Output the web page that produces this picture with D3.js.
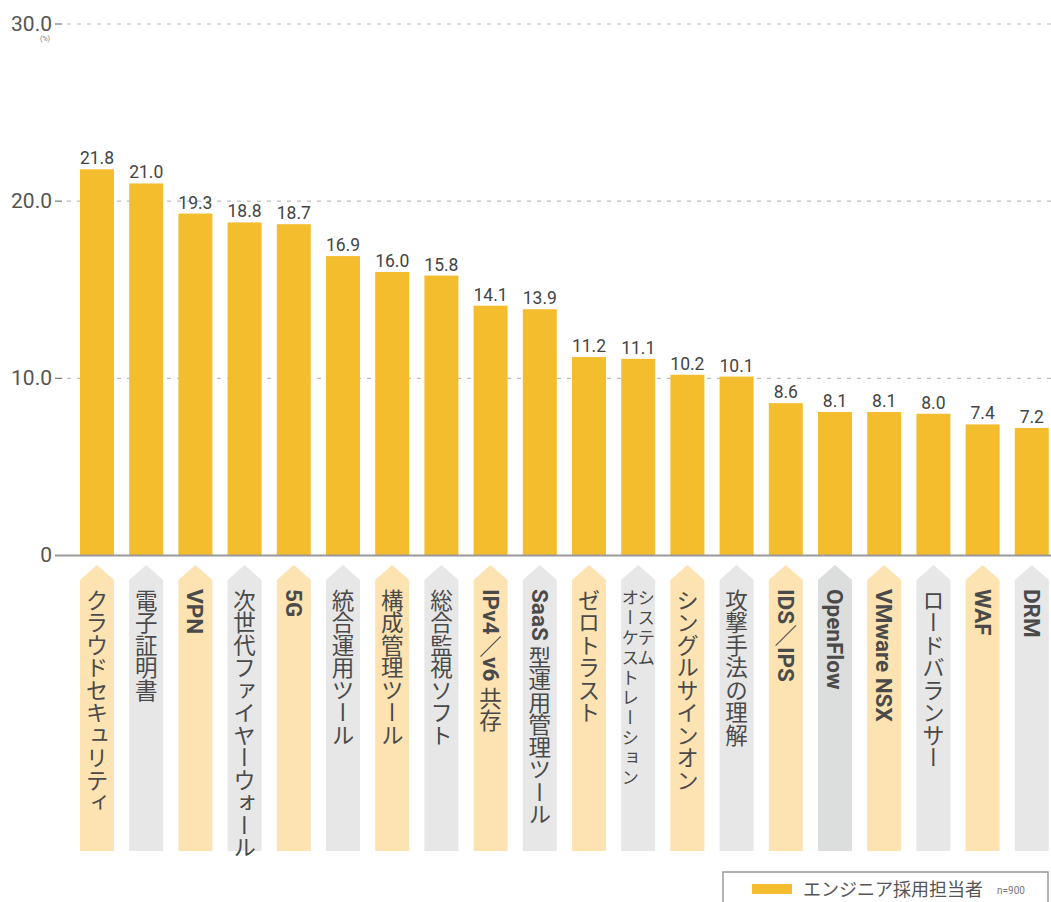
<!DOCTYPE html>
<meta charset="utf-8">
<script src="https://d3js.org/d3.v7.min.js"></script>
<style>
  body { margin: 0; background: #fff; }
</style>
<div id="my_dataviz"></div>

<script>
  // categories (each entry is one or more vertical lines of text)
  var categories = [
    ["クラウドセキュリティ"], ["電子証明書"], ["VPN"], ["次世代ファイヤーウォール"], ["5G"],
    ["統合運用ツール"], ["構成管理ツール"], ["総合監視ソフト"], ["IPv4／v6 共存"], ["SaaS 型運用管理ツール"],
    ["ゼロトラスト"], ["システム", "オーケストレーション"], ["シングルサインオン"], ["攻撃手法の理解"], ["IDS／IPS"],
    ["OpenFlow"], ["VMware NSX"], ["ロードバランサー"], ["WAF"], ["DRM"]
  ];
  var values = [21.8, 21.0, 19.3, 18.8, 18.7, 16.9, 16.0, 15.8, 14.1, 13.9,
                11.2, 11.1, 10.2, 10.1, 8.6, 8.1, 8.1, 8.0, 7.4, 7.2];
  var tickValues = [0, 10, 20, 30];
  var tickLabels = ["0", "10.0", "20.0", "30.0"];
  var seriesName = "エンジニア採用担当者";
  var sampleNote = "n=900";

  var width = 1051, height = 902;
  var barColor = "#f4bd2d";

  var svg = d3.select("#my_dataviz")
    .append("svg")
    .attr("width", width)
    .attr("height", height);

  var keys = categories.map(function(d, i) { return i; });

  // X scale
  var x = d3.scaleBand()
    .domain(keys)
    .range([72.4, 1056.4])
    .paddingInner(0.309)
    .paddingOuter(0.1545);

  // Y scale
  var y = d3.scaleLinear()
    .domain([0, 30])
    .range([555.5, 24]);

  // gridlines + tick labels
  var ticks = svg.append("g");
  tickValues.forEach(function(v, i) {
    var yy = y(v);
    if (v > 0) {
      ticks.append("line")
        .attr("x1", 55).attr("x2", 62)
        .attr("y1", yy).attr("y2", yy)
        .attr("stroke", "#777").attr("stroke-width", 1.2);
      ticks.append("line")
        .attr("x1", 67).attr("x2", width)
        .attr("y1", yy).attr("y2", yy)
        .attr("stroke", "#bdbdbd").attr("stroke-width", 1.2)
        .attr("stroke-dasharray", "4,6");
    }
    ticks.append("text")
      .attr("x", 52).attr("y", yy)
      .attr("dy", "0.33em")
      .attr("text-anchor", "end")
      .style("font-family", "Roboto, sans-serif")
      .style("font-size", "21px")
      .style("fill", "#555")
      .text(tickLabels[i]);
  });

  svg.append("text")
    .attr("x", 45).attr("y", 41)
    .attr("text-anchor", "middle")
    .style("font-family", "Roboto, sans-serif")
    .style("font-size", "7px")
    .style("fill", "#777")
    .text("(%)");

  // bars
  svg.append("g")
    .selectAll("rect")
    .data(values)
    .enter()
    .append("rect")
    .attr("x", function(d, i) { return x(i); })
    .attr("y", function(d) { return y(d); })
    .attr("width", x.bandwidth())
    .attr("height", function(d) { return y(0) - y(d); })
    .attr("fill", barColor);

  // value labels
  svg.append("g")
    .selectAll("text")
    .data(values)
    .enter()
    .append("text")
    .attr("x", function(d, i) { return x(i) + x.bandwidth() / 2; })
    .attr("y", function(d) { return y(d) - 5; })
    .attr("text-anchor", "middle")
    .style("font-family", "Roboto, sans-serif")
    .style("font-size", "17.5px")
    .style("fill", "#444")
    .text(function(d) { return d.toFixed(1); });

  // baseline
  svg.append("line")
    .attr("x1", 55).attr("x2", width)
    .attr("y1", y(0)).attr("y2", y(0))
    .attr("stroke", "#999").attr("stroke-width", 2);

  // category label tags
  var tagTop = 565, tagShoulder = 580, tagBottom = 851;
  var tags = svg.append("g")
    .selectAll("g")
    .data(categories)
    .enter()
    .append("g");

  tags.append("path")
    .attr("d", function(d, i) {
      var x0 = x(i), x1 = x(i) + x.bandwidth(), cx = (x0 + x1) / 2;
      return "M" + cx + "," + tagTop + "L" + x1 + "," + tagShoulder + "L" + x1 + "," + tagBottom +
        "L" + x0 + "," + tagBottom + "L" + x0 + "," + tagShoulder + "Z";
    })
    .attr("fill", function(d, i) {
      if (i % 2 === 0) return "#fde3b1";
      return d[0] === "OpenFlow" ? "#dcdddd" : "#e7e7e7";
    });

  tags.each(function(lines, i) {
    var g = d3.select(this);
    var cx = x(i) + x.bandwidth() / 2;
    var multi = lines.length > 1;
    lines.forEach(function(line, j) {
      var t = g.append("text")
        .attr("x", multi ? cx + 8 - j * 16 : cx)
        .attr("y", 589)
        .style("writing-mode", "vertical-rl")
        .style("font-family", "'Noto Sans CJK JP', sans-serif")
        .style("font-size", multi ? "17.5px" : "22.5px")
        .style("letter-spacing", multi ? "2.5px" : "0px")
        .style("fill", "#4a4a4a");
      // latin runs in bold
      var parts = line.match(/[A-Za-z0-9 ]+|[^A-Za-z0-9 ]+/g);
      parts.forEach(function(p) {
        var latin = /[A-Za-z0-9]/.test(p);
        t.append("tspan")
          .style("font-weight", latin ? "bold" : "normal")
          .style("font-family", latin ? "Roboto, sans-serif" : "'Noto Sans CJK JP', sans-serif")
          .text(p);
      });
    });
  });

  // legend
  var legend = svg.append("g");
  legend.append("rect")
    .attr("x", 723).attr("y", 872)
    .attr("width", 325).attr("height", 45)
    .attr("fill", "#fff")
    .attr("stroke", "#999").attr("stroke-width", 1.5);
  legend.append("rect")
    .attr("x", 752).attr("y", 884)
    .attr("width", 40).attr("height", 10)
    .attr("fill", barColor);
  legend.append("text")
    .attr("x", 803).attr("y", 896)
    .style("font-family", "'Noto Sans CJK JP', sans-serif")
    .style("font-size", "18px")
    .style("fill", "#555")
    .text(seriesName);
  legend.append("text")
    .attr("x", 997).attr("y", 894)
    .style("font-family", "Roboto, sans-serif")
    .style("font-size", "10px")
    .style("fill", "#777")
    .text(sampleNote);
</script>
